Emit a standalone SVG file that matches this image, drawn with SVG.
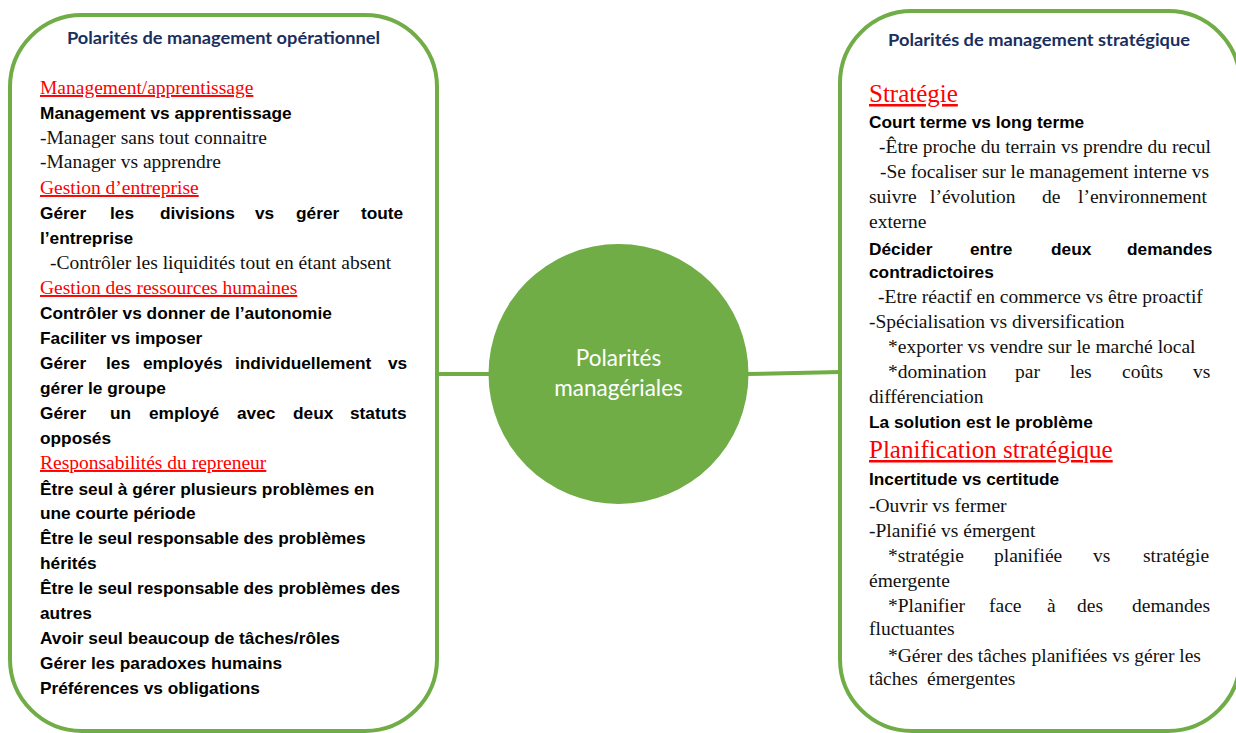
<svg xmlns="http://www.w3.org/2000/svg" width="1236" height="733" viewBox="0 0 1236 733">
<style>
.box{fill:#fff;stroke:#70AD47;stroke-width:4}
.conn{stroke:#70AD47;stroke-width:4;fill:none}
.t{font-family:Lato,"Liberation Sans",sans-serif;font-weight:bold;font-size:17px;fill:#1A2F5E;text-anchor:middle}
.h{font-family:"Liberation Serif",serif;font-size:19.5px;fill:#FF0000;text-decoration:underline}
.hr{font-family:"Liberation Serif",serif;font-size:25px;fill:#FF0000;text-decoration:underline}
.b{font-family:"Liberation Sans",sans-serif;font-weight:bold;font-size:17.3px;fill:#000}
.s{font-family:"Liberation Serif",serif;font-size:19.5px;fill:#111}
.c{font-family:Lato,"Open Sans",sans-serif;font-size:22.5px;fill:#fff;text-anchor:middle}
</style>
<g id="connectors">
<line class="conn" x1="437" y1="374" x2="490" y2="374"/>
<line class="conn" x1="747" y1="374" x2="840" y2="372"/>
</g>
<g id="node-operationnel">
<rect class="box" x="10" y="15" width="427" height="716" rx="72" ry="72"/>
<text class="t" x="223.5" y="44" textLength="313" lengthAdjust="spacingAndGlyphs">Polarités de management opérationnel</text>
<text class="h" x="40" y="94">Management/apprentissage</text>
<text class="b" x="40" y="119">Management vs apprentissage</text>
<text class="s" x="40" y="144">-Manager sans tout connaitre</text>
<text class="s" x="40" y="168">-Manager vs apprendre</text>
<text class="h" x="40" y="194">Gestion d’entreprise</text>
<text class="b" y="219"><tspan x="40">Gérer</tspan><tspan x="110">les</tspan><tspan x="160">divisions</tspan><tspan x="255">vs</tspan><tspan x="296">gérer</tspan><tspan x="361">toute</tspan></text>
<text class="b" x="40" y="244">l’entreprise</text>
<text class="s" x="50" y="269">-Contrôler les liquidités tout en étant absent</text>
<text class="h" x="40" y="294">Gestion des ressources humaines</text>
<text class="b" x="40" y="319">Contrôler vs donner de l’autonomie</text>
<text class="b" x="40" y="344">Faciliter vs imposer</text>
<text class="b" y="369"><tspan x="40">Gérer</tspan><tspan x="106">les</tspan><tspan x="143">employés</tspan><tspan x="235">individuellement</tspan><tspan x="388">vs</tspan></text>
<text class="b" x="40" y="394">gérer le groupe</text>
<text class="b" y="419"><tspan x="40">Gérer</tspan><tspan x="110">un</tspan><tspan x="149">employé</tspan><tspan x="237">avec</tspan><tspan x="293">deux</tspan><tspan x="350">statuts</tspan></text>
<text class="b" x="40" y="444">opposés</text>
<text class="h" x="40" y="469">Responsabilités du repreneur</text>
<text class="b" x="40" y="495">Être seul à gérer plusieurs problèmes en</text>
<text class="b" x="40" y="519">une courte période</text>
<text class="b" x="40" y="544">Être le seul responsable des problèmes</text>
<text class="b" x="40" y="569">hérités</text>
<text class="b" x="40" y="594">Être le seul responsable des problèmes des</text>
<text class="b" x="40" y="619">autres</text>
<text class="b" x="40" y="644">Avoir seul beaucoup de tâches/rôles</text>
<text class="b" x="40" y="669">Gérer les paradoxes humains</text>
<text class="b" x="40" y="694">Préférences vs obligations</text>
</g>
<g id="node-center">
<circle cx="618.5" cy="374" r="130" fill="#70AD47"/>
<text class="c" x="618.5" y="366">Polarités</text>
<text class="c" x="618.5" y="396">managériales</text>
</g>
<g id="node-strategique">
<rect class="box" x="840" y="11" width="400" height="720" rx="72" ry="72"/>
<text class="t" x="1039" y="46" textLength="302" lengthAdjust="spacingAndGlyphs">Polarités de management stratégique</text>
<text class="hr" x="869" y="102">Stratégie</text>
<text class="b" x="869" y="128">Court terme vs long terme</text>
<text class="s" x="879" y="153">-Être proche du terrain vs prendre du recul</text>
<text class="s" x="880" y="178" textLength="329">-Se focaliser sur le management interne vs</text>
<text class="s" y="203"><tspan x="869">suivre</tspan><tspan x="930">l’évolution</tspan><tspan x="1042">de</tspan><tspan x="1078">l’environnement</tspan></text>
<text class="s" x="869" y="228">externe</text>
<text class="b" y="255"><tspan x="869">Décider</tspan><tspan x="970">entre</tspan><tspan x="1051">deux</tspan><tspan x="1127">demandes</tspan></text>
<text class="b" x="869" y="278">contradictoires</text>
<text class="s" x="878" y="303">-Etre réactif en commerce vs être proactif</text>
<text class="s" x="869" y="328">-Spécialisation vs diversification</text>
<text class="s" x="888" y="353">*exporter vs vendre sur le marché local</text>
<text class="s" y="378"><tspan x="888">*domination</tspan><tspan x="1015">par</tspan><tspan x="1070">les</tspan><tspan x="1122">coûts</tspan><tspan x="1193">vs</tspan></text>
<text class="s" x="869" y="403">différenciation</text>
<text class="b" x="869" y="428">La solution est le problème</text>
<text class="hr" x="869" y="458">Planification stratégique</text>
<text class="b" x="869" y="485">Incertitude vs certitude</text>
<text class="s" x="869" y="512">-Ouvrir vs fermer</text>
<text class="s" x="869" y="537">-Planifié vs émergent</text>
<text class="s" y="562"><tspan x="888">*stratégie</tspan><tspan x="994">planifiée</tspan><tspan x="1093">vs</tspan><tspan x="1143">stratégie</tspan></text>
<text class="s" x="869" y="587">émergente</text>
<text class="s" y="612"><tspan x="888">*Planifier</tspan><tspan x="989">face</tspan><tspan x="1047">à</tspan><tspan x="1077">des</tspan><tspan x="1132">demandes</tspan></text>
<text class="s" x="869" y="635">fluctuantes</text>
<text class="s" x="888" y="662">*Gérer des tâches planifiées vs gérer les</text>
<text class="s" y="685"><tspan x="869">tâches</tspan><tspan x="927">émergentes</tspan></text>
</g>
</svg>
